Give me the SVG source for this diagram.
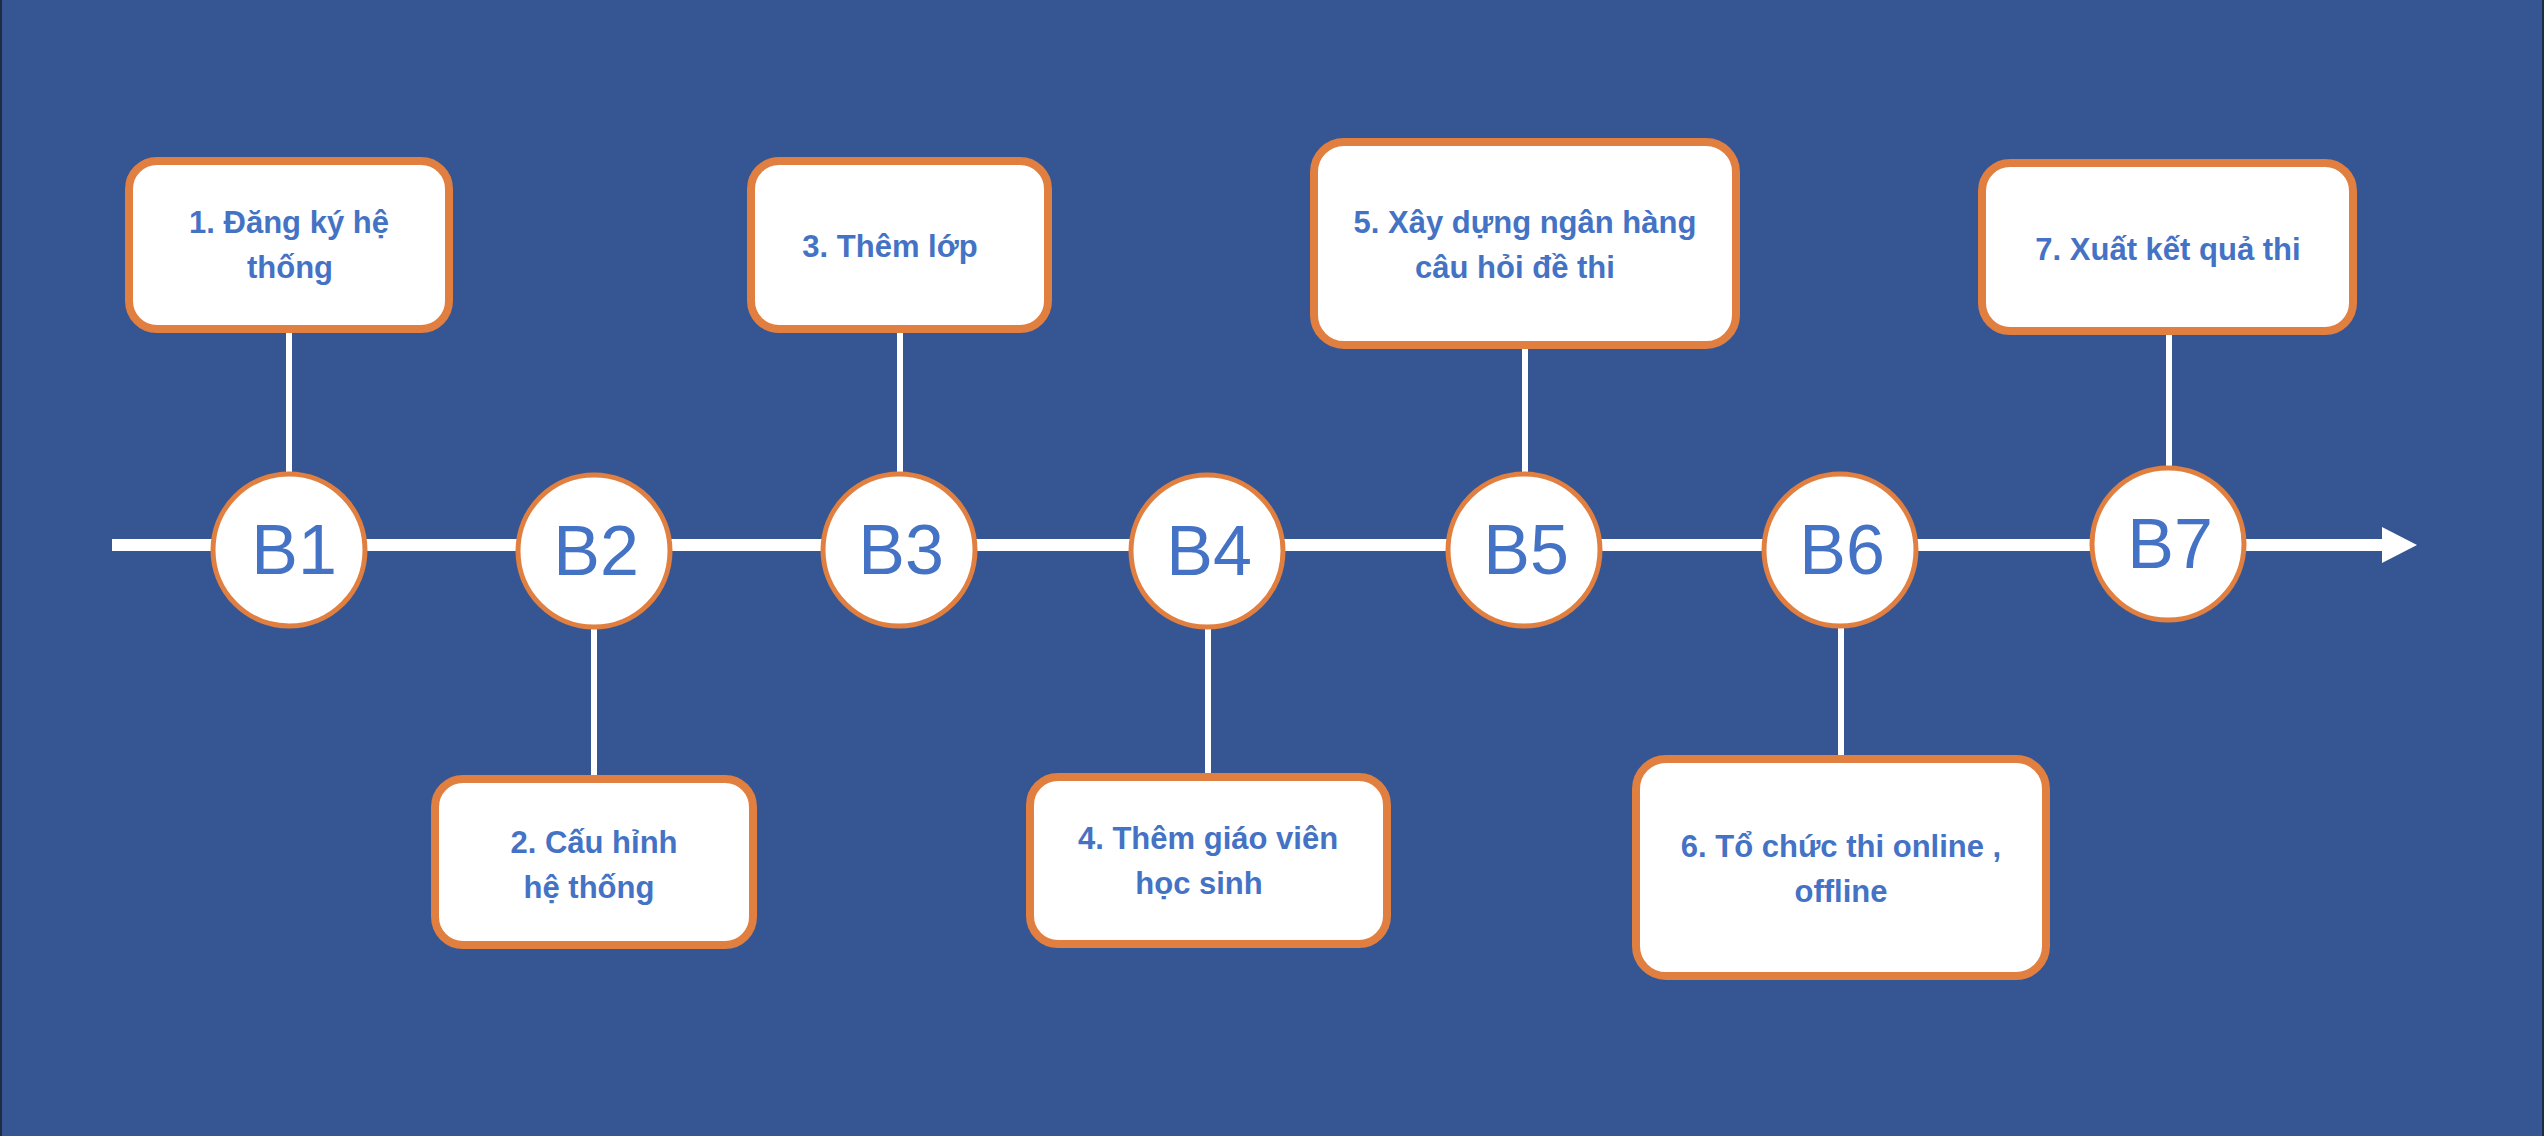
<svg xmlns="http://www.w3.org/2000/svg" width="2544" height="1136" viewBox="0 0 2544 1136">
<style>
.box{fill:#ffffff;stroke:#E07F3F;stroke-width:8}
.step{fill:#ffffff;stroke:#E07F3F;stroke-width:5}
.lbl{font-family:"Liberation Sans",Arial,sans-serif;font-weight:bold;font-size:31px;fill:#4472C4;text-anchor:middle}
.num{font-family:"Liberation Sans",Arial,sans-serif;font-size:70px;fill:#4472C4;text-anchor:middle}
.conn{stroke:#ffffff;stroke-width:6;fill:none}
</style>
<rect x="0" y="0" width="2544" height="1136" fill="#365693"/>
<rect x="0" y="0" width="2" height="1136" fill="#1f2b40"/>
<rect x="2542" y="0" width="2" height="1136" fill="#1f2b40"/>
<g id="connectors">
<line x1="112" y1="545" x2="2384" y2="545" stroke="#ffffff" stroke-width="12"/>
<polygon points="2382,527 2417,545 2382,563" fill="#ffffff"/>
<line class="conn" x1="289" y1="333" x2="289" y2="473"/>
<line class="conn" x1="594" y1="629" x2="594" y2="775"/>
<line class="conn" x1="900" y1="333" x2="900" y2="473"/>
<line class="conn" x1="1208" y1="629" x2="1208" y2="773"/>
<line class="conn" x1="1525" y1="349" x2="1525" y2="473"/>
<line class="conn" x1="1841" y1="627" x2="1841" y2="755"/>
<line class="conn" x1="2169" y1="335" x2="2169" y2="467"/>
</g>
<g id="B1"><circle class="step" cx="289" cy="550" r="76"/><text class="num" x="294" y="574">B1</text></g>
<g id="B2"><circle class="step" cx="594" cy="551" r="76"/><text class="num" x="596" y="575">B2</text></g>
<g id="B3"><circle class="step" cx="899" cy="550" r="76"/><text class="num" x="901" y="574">B3</text></g>
<g id="B4"><circle class="step" cx="1207" cy="551" r="76"/><text class="num" x="1209" y="575">B4</text></g>
<g id="B5"><circle class="step" cx="1524" cy="550" r="76"/><text class="num" x="1526" y="574">B5</text></g>
<g id="B6"><circle class="step" cx="1840" cy="550" r="76"/><text class="num" x="1842" y="574">B6</text></g>
<g id="B7"><circle class="step" cx="2168" cy="544" r="76"/><text class="num" x="2170" y="568">B7</text></g>
<g id="step1"><rect class="box" x="129" y="161" width="320" height="168" rx="28"/><text class="lbl" x="289" y="233">1. Đăng ký hệ</text><text class="lbl" x="290" y="278">thống</text></g>
<g id="step2"><rect class="box" x="435" y="779" width="318" height="166" rx="28"/><text class="lbl" x="594" y="853">2. Cấu hỉnh</text><text class="lbl" x="589" y="898">hệ thống</text></g>
<g id="step3"><rect class="box" x="751" y="161" width="297" height="168" rx="28"/><text class="lbl" x="890" y="257">3. Thêm lớp</text></g>
<g id="step4"><rect class="box" x="1030" y="777" width="357" height="167" rx="28"/><text class="lbl" x="1208" y="849">4. Thêm giáo viên</text><text class="lbl" x="1199" y="894">học sinh</text></g>
<g id="step5"><rect class="box" x="1314" y="142" width="422" height="203" rx="30"/><text class="lbl" x="1525" y="233">5. Xây dựng ngân hàng</text><text class="lbl" x="1515" y="278">câu hỏi đề thi</text></g>
<g id="step6"><rect class="box" x="1636" y="759" width="410" height="217" rx="30"/><text class="lbl" x="1841" y="857">6. Tổ chức thi online ,</text><text class="lbl" x="1841" y="902">offline</text></g>
<g id="step7"><rect class="box" x="1982" y="163" width="371" height="168" rx="28"/><text class="lbl" x="2168" y="260">7. Xuất kết quả thi</text></g>
</svg>
